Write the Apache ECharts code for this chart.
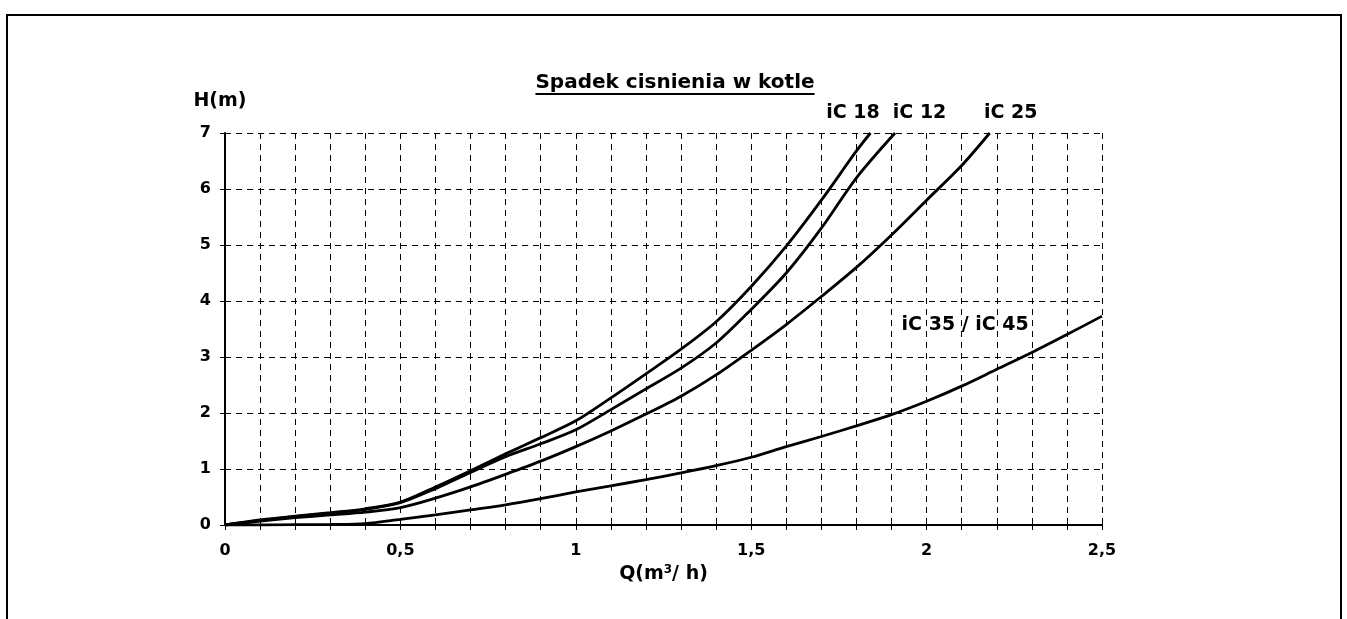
<!DOCTYPE html>
<html>
<head>
<meta charset="utf-8">
<script src="https://cdn.jsdelivr.net/npm/echarts@6.0.0/dist/echarts.min.js"></script>
<style>
  html, body { margin: 0; padding: 0; background: #fff; }
  #chart { width: 1347px; height: 619px; }
</style>
</head>
<body>
<div id="chart"></div>
<script>
// dane: Q (m3/h) i H (m) dla kazdego kotla
const q18 = [0, 0.1, 0.2, 0.3, 0.4, 0.5, 0.6, 0.7, 0.8, 0.9, 1.0, 1.1, 1.2, 1.3, 1.4, 1.5, 1.6, 1.7, 1.8, 1.84];
const h18 = [0, 0.09, 0.16, 0.22, 0.29, 0.41, 0.68, 0.97, 1.27, 1.56, 1.86, 2.27, 2.70, 3.14, 3.63, 4.26, 4.98, 5.8, 6.68, 7.0];

const q12 = [0, 0.1, 0.2, 0.3, 0.4, 0.5, 0.6, 0.7, 0.8, 0.9, 1.0, 1.1, 1.2, 1.3, 1.4, 1.5, 1.6, 1.7, 1.8, 1.91];
const h12 = [0, 0.08, 0.15, 0.21, 0.28, 0.40, 0.65, 0.94, 1.22, 1.45, 1.70, 2.06, 2.43, 2.8, 3.25, 3.85, 4.5, 5.3, 6.2, 7.0];

const q25 = [0, 0.1, 0.2, 0.3, 0.4, 0.5, 0.6, 0.7, 0.8, 0.9, 1.0, 1.1, 1.2, 1.3, 1.4, 1.5, 1.6, 1.7, 1.8, 1.9, 2.0, 2.1, 2.18];
const h25 = [0, 0.07, 0.13, 0.18, 0.23, 0.31, 0.48, 0.68, 0.905, 1.14, 1.40, 1.68, 1.98, 2.3, 2.68, 3.12, 3.58, 4.08, 4.6, 5.18, 5.8, 6.42, 7.0];

const q35 = [0, 0.1, 0.2, 0.3, 0.4, 0.5, 0.6, 0.7, 0.8, 0.9, 1.0, 1.1, 1.2, 1.3, 1.4, 1.5, 1.6, 1.7, 1.8, 1.9, 2.0, 2.1, 2.2, 2.3, 2.4, 2.5];
const h35 = [0, 0, 0.005, 0.01, 0.025, 0.1, 0.18, 0.27, 0.36, 0.47, 0.59, 0.70, 0.81, 0.93, 1.06, 1.21, 1.40, 1.58, 1.77, 1.97, 2.21, 2.48, 2.78, 3.08, 3.40, 3.73];

const seriesNames = ["iC 18", "iC 12", "iC 25", "iC 35 / iC 45"];
const titleText = "Spadek cisnienia w kotle";

const FONT = "DejaVu Sans";

function zip(qs, hs) {
  return qs.map((q, i) => [q, hs[i]]);
}

const chart = echarts.init(document.getElementById("chart"));

const lineOpts = {
  type: "line",
  showSymbol: false,
  smooth: 0.3,
  clip: true,
  lineStyle: { color: "#000", width: 2.8 },
  silent: true
};

const option = {
  animation: false,
  backgroundColor: "#fff",
  grid: { left: 225, right: 245, top: 133, bottom: 94 },
  xAxis: [
    {
      type: "value",
      min: 0,
      max: 2.5,
      interval: 0.1,
      position: "bottom",
      name: "Q(m{sup|3}/ h)",
      nameLocation: "middle",
      nameGap: 36,
      nameTextStyle: {
        fontFamily: FONT, fontWeight: "bold", fontSize: 19, color: "#000",
        rich: {
          sup: { fontFamily: FONT, fontWeight: "bold", fontSize: 12, color: "#000", verticalAlign: "top", padding: [0, 0, 8, 0] }
        }
      },
      axisLine: { show: true, lineStyle: { color: "#000", width: 2 } },
      axisTick: { show: true, length: 5, lineStyle: { color: "#000", width: 1 } },
      axisLabel: {
        margin: 18,
        fontFamily: FONT, fontWeight: "bold", fontSize: 16, color: "#000",
        formatter: function (v) {
          // podpisy tylko co 0,5
          if (Math.abs(v * 2 - Math.round(v * 2)) > 1e-6) return "";
          return String(Math.round(v * 10) / 10).replace(".", ",");
        }
      },
      splitLine: { show: true, lineStyle: { color: "#000", width: 1, type: [6, 5] } }
    },
    {
      type: "value",
      min: 0,
      max: 2.5,
      interval: 0.1,
      position: "bottom",
      axisLine: { show: false },
      axisTick: { show: true, inside: true, length: 4, lineStyle: { color: "#000", width: 1 } },
      axisLabel: { show: false },
      splitLine: { show: false }
    }
  ],
  yAxis: {
    type: "value",
    min: 0,
    max: 7,
    interval: 1,
    name: "H(m)",
    nameLocation: "end",
    nameGap: 22,
    nameTextStyle: { fontFamily: FONT, fontWeight: "bold", fontSize: 19, color: "#000", padding: [0, 10, 0, 0] },
    axisLine: { show: true, lineStyle: { color: "#000", width: 2 } },
    axisTick: { show: true, length: 5, lineStyle: { color: "#000", width: 1 } },
    axisLabel: { margin: 14, fontFamily: FONT, fontWeight: "bold", fontSize: 16, color: "#000" },
    splitLine: { show: true, lineStyle: { color: "#000", width: 1, type: [6, 5] } }
  },
  series: [
    Object.assign({ name: seriesNames[0], data: zip(q18, h18) }, lineOpts),
    Object.assign({ name: seriesNames[1], data: zip(q12, h12) }, lineOpts),
    Object.assign({ name: seriesNames[2], data: zip(q25, h25) }, lineOpts),
    Object.assign({ name: seriesNames[3], data: zip(q35, h35) }, lineOpts)
  ]
};

chart.setOption(option);

// podpisy krzywych, ramka i podkreslony tytul
const labelSpots = [[1.79, 7.36], [1.98, 7.36], [2.24, 7.36], [2.11, 3.57]];
const labelFont = "bold 19px '" + FONT + "'";
const titleFont = "bold 20px '" + FONT + "'";
const graphics = [];

graphics.push({
  type: "rect",
  shape: { x: 7, y: 15, width: 1334, height: 700 },
  style: { fill: "none", stroke: "#000", lineWidth: 2 },
  silent: true
});

seriesNames.forEach((name, i) => {
  const p = chart.convertToPixel({ gridIndex: 0 }, labelSpots[i]);
  graphics.push({
    type: "text",
    x: p[0],
    y: p[1],
    style: { text: name, font: labelFont, fill: "#000", align: "center", verticalAlign: "middle" },
    silent: true
  });
});

const ctx = document.createElement("canvas").getContext("2d");
ctx.font = titleFont;
const titleW = ctx.measureText(titleText).width;
const titleX = 675;
const titleY = 83;
graphics.push({
  type: "text",
  x: titleX,
  y: titleY,
  style: { text: titleText, font: titleFont, fill: "#000", align: "center", verticalAlign: "middle" },
  silent: true
});
graphics.push({
  type: "line",
  shape: { x1: titleX - titleW / 2, y1: titleY + 11, x2: titleX + titleW / 2, y2: titleY + 11 },
  style: { stroke: "#000", lineWidth: 2 },
  silent: true
});

chart.setOption({ graphic: graphics });
</script>
</body>
</html>
